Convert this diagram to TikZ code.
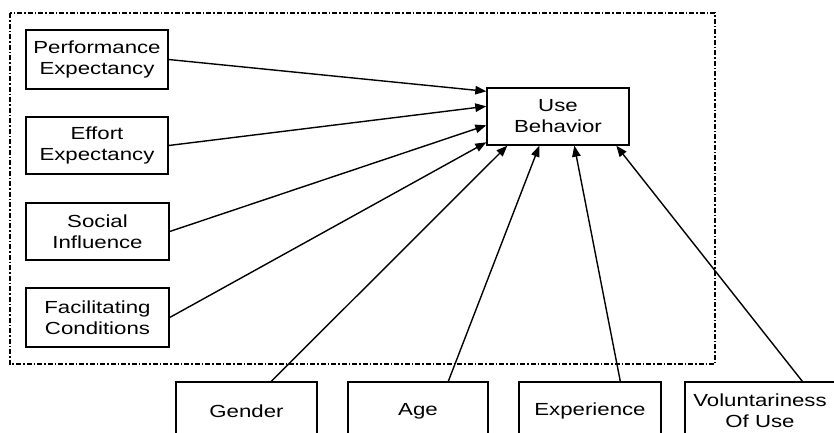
\documentclass[tikz,border=0pt]{standalone}
\usepackage{fontspec}
\setmainfont{Liberation Sans}[FakeStretch=1.27]
\usetikzlibrary{arrows.meta,calc}
\begin{document}
\begin{tikzpicture}[x=1pt,y=-1pt,
  box/.style={draw, line width=1.4pt, rectangle, inner sep=1pt, align=center,
    font=\fontsize{17.5}{21}\selectfont},
  link/.style={line width=1.4pt, -{Triangle[length=11pt,width=8.5pt]}},
  frame/.style={line width=1.1pt, dash pattern=on 5pt off 2pt on 1.5pt off 2pt}]
  \useasboundingbox (0,0) rectangle (834,432);
  \clip (0,0) rectangle (834,432);
  \fill[white] (0,0) rectangle (834,432);

  % enclosing frame
  \draw[frame] (10,13) rectangle (715,364);

  % determinants
  \node[box, minimum width=142pt, minimum height=59pt] (perf) at (97,59.5) {Performance\\Expectancy};
  \node[box, minimum width=142pt, minimum height=57pt] (effort) at (97,145.5) {Effort\\Expectancy};
  \node[box, minimum width=143pt, minimum height=57pt] (social) at (97.5,231.5) {Social\\Influence};
  \node[box, minimum width=143pt, minimum height=59pt] (facil) at (97.5,317.5) {Facilitating\\Conditions};

  % outcome
  \node[box, minimum width=142pt, minimum height=57pt] (use) at (558,116.5) {Use\\Behavior};

  % moderators
  \node[box, minimum width=141pt, minimum height=58pt] (gender) at (246.5,411) {Gender};
  \node[box, minimum width=140pt, minimum height=58pt] (age) at (418,411) {Age};
  \node[box, minimum width=142pt, minimum height=58pt] (exp) at (590,411) {Experience};
  \node[box, minimum width=150pt, minimum height=58pt] (vol) at (760,411) {Voluntariness\\Of Use};

  % arrows into the outcome
  \draw[link] (perf.east) -- ($(use.north west)+(0,4)$);
  \draw[link] (effort.east) -- ($(use.north west)+(0,19)$);
  \draw[link] (social.east) -- ($(use.north west)+(0,38)$);
  \draw[link] (facil.east) -- ($(use.north west)+(0,55)$);

  \draw[link] ($(gender.north west)+(96,0)$) -- ($(use.south west)+(21,0)$);
  \draw[link] ($(age.north west)+(101,0)$) -- ($(use.south west)+(53,0)$);
  \draw[link] ($(exp.north west)+(102,0)$) -- ($(use.south west)+(88,0)$);
  \draw[link] ($(vol.north west)+(118,0)$) -- ($(use.south west)+(130,0)$);
\end{tikzpicture}
\end{document}
